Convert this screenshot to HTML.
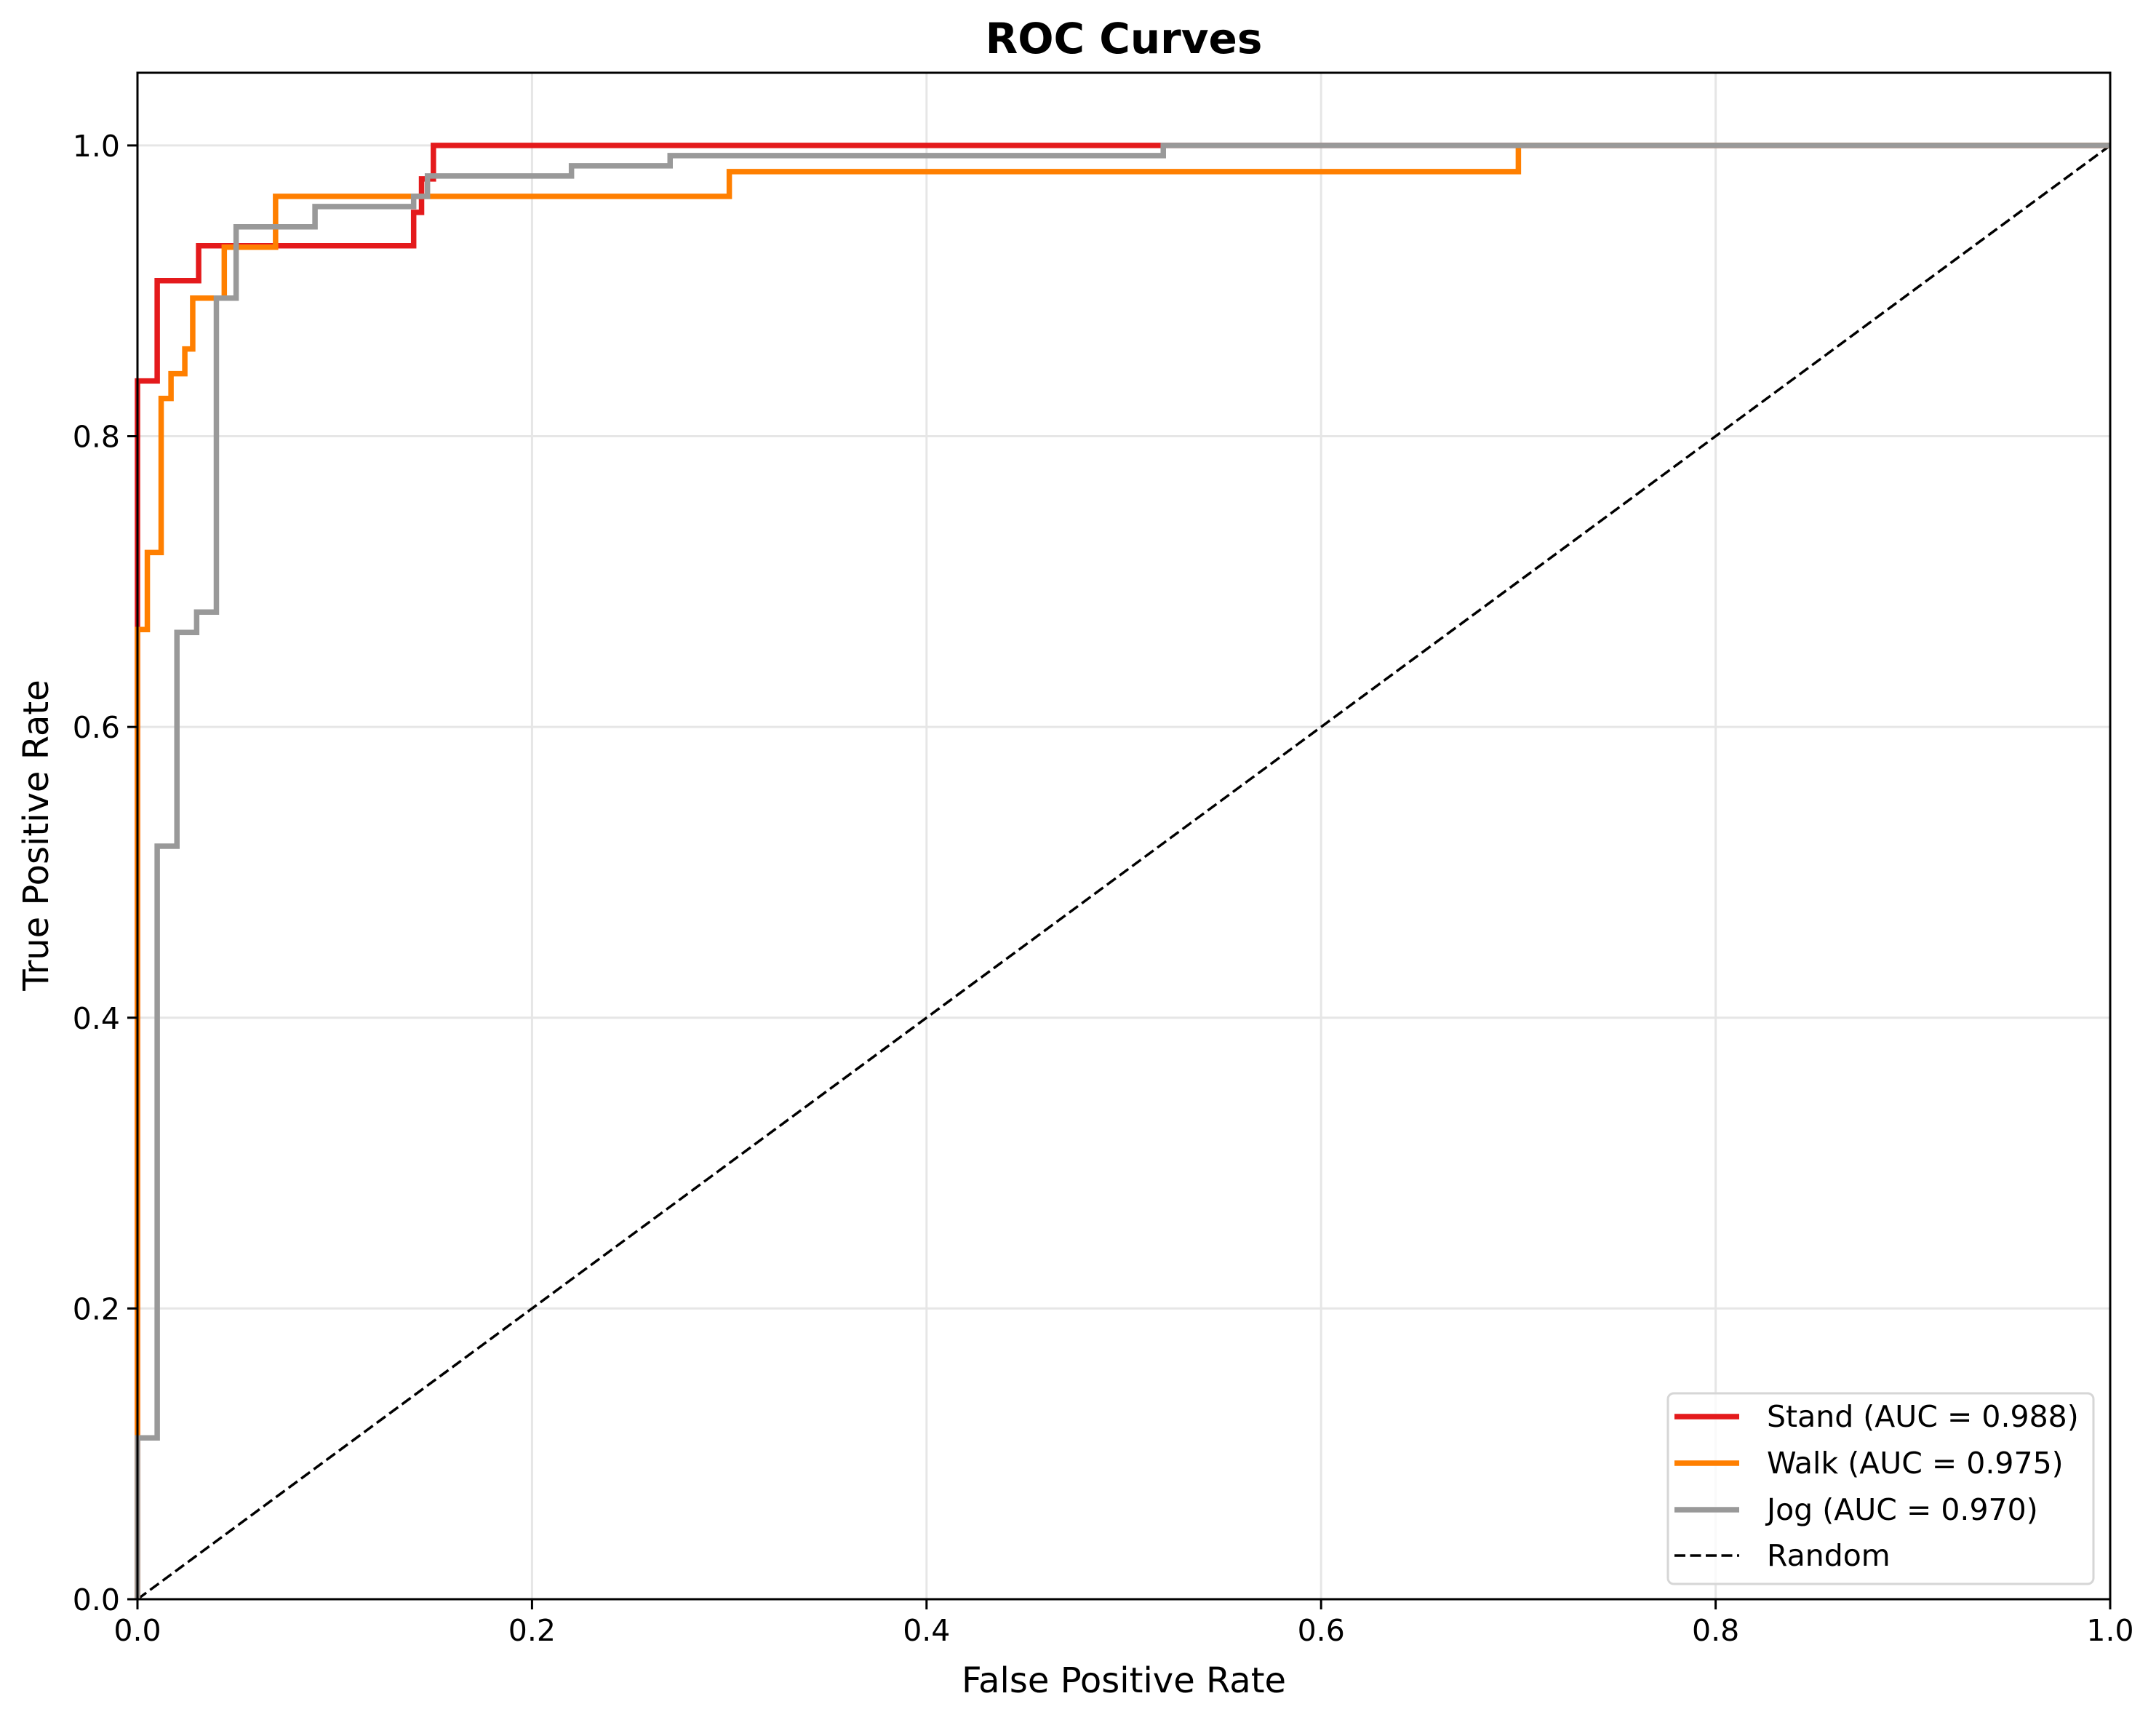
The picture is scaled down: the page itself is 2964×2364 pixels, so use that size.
<!DOCTYPE html>
<html><head><meta charset="utf-8"><style>
html,body{margin:0;padding:0;background:#fff;}
svg{display:block;font-family:"DejaVu Sans","Liberation Sans",sans-serif;}
</style></head><body>
<svg id="chart" width="2964" height="2364" viewBox="0 0 2964 2364" xmlns="http://www.w3.org/2000/svg">
<rect width="2964" height="2364" fill="#fff"/>
<g id="grid"></g>
<g id="series"></g>
<g id="axes"></g>
<text x="1545" y="73" text-anchor="middle" font-size="58" font-weight="bold">ROC Curves</text>
<text x="1545" y="2326" text-anchor="middle" font-size="48">False Positive Rate</text>
<text x="0" y="0" transform="translate(66,1148) rotate(-90)" text-anchor="middle" font-size="48">True Positive Rate</text>
<g id="legend"></g>
</svg>
<script>
const xTicks = [0, 0.2, 0.4, 0.6, 0.8, 1.0];
const yTicks = [0, 0.2, 0.4, 0.6, 0.8, 1.0];
const seriesNames = ["Stand (AUC = 0.988)", "Walk (AUC = 0.975)", "Jog (AUC = 0.970)"];
const standFpr = [0, 0, 0.01, 0.031, 0.14, 0.144, 0.15, 1.0];
const standTpr = [0, 0.838, 0.907, 0.931, 0.954, 0.977, 1.0, 1.0];
const walkFpr = [0, 0, 0.005, 0.012, 0.017, 0.024, 0.028, 0.044, 0.07, 0.30, 0.70, 1.0];
const walkTpr = [0, 0.667, 0.72, 0.826, 0.843, 0.86, 0.895, 0.93, 0.965, 0.982, 1.0, 1.0];
const jogFpr = [0, 0, 0.01, 0.02, 0.03, 0.04, 0.05, 0.09, 0.14, 0.147, 0.22, 0.27, 0.52, 1.0];
const jogTpr = [0, 0.111, 0.518, 0.665, 0.679, 0.895, 0.944, 0.958, 0.965, 0.979, 0.986, 0.993, 1.0, 1.0];

const NS = "http://www.w3.org/2000/svg";
const L = 189, R = 2901, B = 2198, T = 100;
const X = v => L + v * (R - L);
const Y = v => B - v / 1.05 * (B - T);
function mk(tag, attrs, parent) {
  const e = document.createElementNS(NS, tag);
  for (const k in attrs) e.setAttribute(k, attrs[k]);
  parent.appendChild(e);
  return e;
}
const grid = document.getElementById('grid');
const axes = document.getElementById('axes');
const series = document.getElementById('series');
const legend = document.getElementById('legend');

xTicks.forEach(v => {
  const g = mk('line', {x1: X(v), x2: X(v), y1: T, y2: B, stroke: '#e6e6e6', 'stroke-width': 3}, grid);
  
  
  const t = mk('line', {x1: X(v), x2: X(v), y1: B, y2: B + 14, stroke: '#000', 'stroke-width': 3}, axes);
  
  
  const tx = mk('text', {x: X(v), y: B + 57, 'text-anchor': 'middle', 'font-size': 41}, axes);
  tx.textContent = v.toFixed(1);
  
  
});
yTicks.forEach(v => {
  const g = mk('line', {x1: L, x2: R, y1: Y(v), y2: Y(v), stroke: '#e6e6e6', 'stroke-width': 3}, grid);
  
  
  const t = mk('line', {x1: L - 14, x2: L, y1: Y(v), y2: Y(v), stroke: '#000', 'stroke-width': 3}, axes);
  
  
  const tx = mk('text', {x: L - 24, y: Y(v) + 15, 'text-anchor': 'end', 'font-size': 41}, axes);
  tx.textContent = v.toFixed(1);
  
  
});

function stepPath(fx, ty) {
  let d = 'M' + X(fx[0]) + ',' + Y(ty[0]);
  for (let i = 1; i < fx.length; i++) {
    d += ' L' + X(fx[i]) + ',' + Y(ty[i - 1]) + ' L' + X(fx[i]) + ',' + Y(ty[i]);
  }
  return d;
}
const rnd = mk('line', {x1: X(0), y1: Y(0), x2: X(1), y2: Y(1), stroke: '#000', 'stroke-width': 3.5, 'stroke-dasharray': '15,6.5'}, series);


const colors = ['#e41a1c', '#ff7f00', '#999999'];
const sets = [[standFpr, standTpr], [walkFpr, walkTpr], [jogFpr, jogTpr]];
const snames = ['stand-curve', 'walk-curve', 'jog-curve'];
sets.forEach((s, i) => {
  const p = mk('path', {d: stepPath(s[0], s[1]), fill: 'none', stroke: colors[i], 'stroke-width': 7.5, 'stroke-linejoin': 'miter'}, series);
  
  
});

const frame = mk('rect', {x: L, y: T, width: R - L, height: B - T, fill: 'none', stroke: '#000', 'stroke-width': 3}, axes);



const box = mk('rect', {x: 2293, y: 1915, width: 585, height: 262, rx: 8, fill: '#fff', 'fill-opacity': 0.8, stroke: '#d6d6d6', 'stroke-width': 3}, legend);


const rowsY = [1947, 2011, 2075, 2138];
const labels = seriesNames.concat(['Random']);
labels.forEach((lab, i) => {
  const g = mk('g', {}, legend);
  
  
  const attrs = {x1: 2302, x2: 2391, y1: rowsY[i], y2: rowsY[i], 'stroke-width': i < 3 ? 7.5 : 3.5, stroke: i < 3 ? colors[i] : '#000'};
  if (i === 3) attrs['stroke-dasharray'] = '15,6.5';
  mk('line', attrs, g);
  const t = mk('text', {x: 2429, y: rowsY[i] + 14, 'font-size': 41}, g);
  t.textContent = lab;
});
</script>
</body></html>
